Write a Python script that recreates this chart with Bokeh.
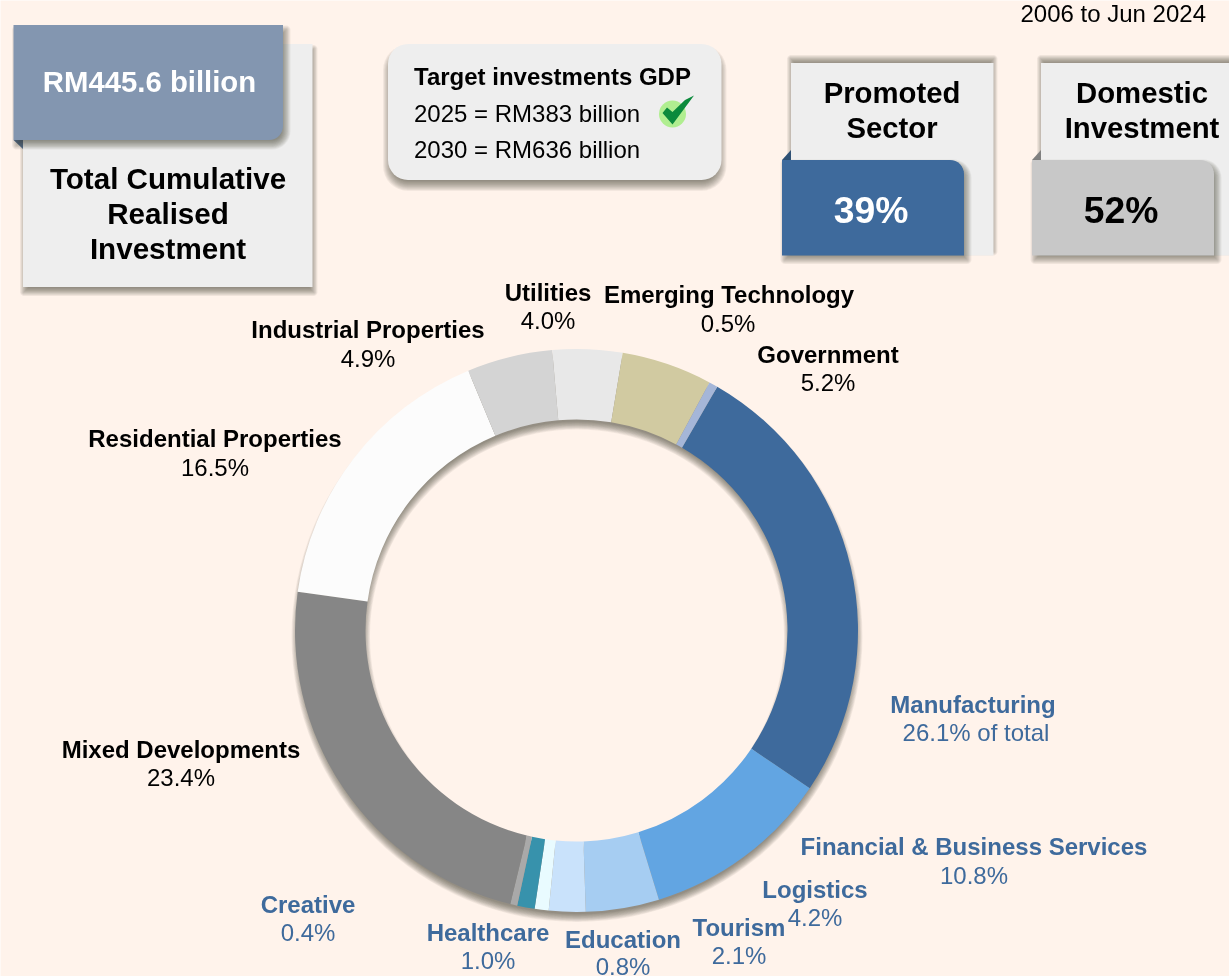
import math
import numpy as np
from bokeh.plotting import figure
from bokeh.models import Range1d, ColumnDataSource
from bokeh.core.properties import value
from bokeh.embed import file_html
from bokeh.resources import INLINE

# ---- data -------------------------------------------------------------
sectors = ["Manufacturing", "Financial & Business Services", "Logistics", "Tourism",
           "Education", "Healthcare", "Creative", "Mixed Developments",
           "Residential Properties", "Industrial Properties", "Utilities",
           "Government", "Emerging Technology"]
shares = [26.1, 10.8, 4.2, 2.1, 0.8, 1.0, 0.4, 23.4, 16.5, 4.9, 4.0, 5.2, 0.5]
colors = ["#3e6a9c", "#62a5e2", "#a6cdf2", "#c9e2fb", "#e9fbff", "#3792ac", "#a9a9a9",
          "#868686", "#fcfcfc", "#d4d4d4", "#e8e8e8", "#d1caa1", "#a5b6d8"]
label_colors = ["#3e6a9c"] * 7 + ["#000000"] * 6
value_suffix = [" of total"] + [""] * 12

# ---- layout (pixel positions of the labels) ---------------------------
name_x = [973, 974, 815, 739, 623, 488, 308, 181, 215, 368, 548, 828, 729]
name_base = [704.5, 846.5, 889.5, 927.5, 939.5, 932.5, 904.5, 749.5, 438.5, 329.5, 292.5, 354.5, 294.5]
val_x = [976, 974, 815, 739, 623, 488, 308, 181, 215, 368, 548, 828, 728]
val_base = [732.5, 875, 917.5, 955.5, 966, 960.5, 932.5, 777.5, 467.5, 358.5, 320.5, 382.5, 323.5]

W, H = 1229, 976
BG = "#fff3eb"
SHADOW = "#3f3a36"
FONT = value("Liberation Sans")


def Y(y):
    return H - y


p = figure(width=W, height=H, x_range=Range1d(0.5, W + 0.5), y_range=Range1d(-0.5, H - 0.5),
           output_backend="svg", toolbar_location=None, min_border=0,
           background_fill_color=BG, border_fill_color=BG, outline_line_color=None,
           styles={"position": "fixed", "left": "0px", "top": "0px"})
p.axis.visible = False
p.grid.visible = False


def rounded(x0, y0, x1, y1, tl=0.0, tr=0.0, br=0.0, bl=0.0, grow=0.0):
    """Outline of a box with rounded corners, in pixel coordinates."""
    x0, y0, x1, y1 = x0 - grow, y0 - grow, x1 + grow, y1 + grow
    xs, ys = [], []
    corners = [(x0, y0, tl, 180), (x1, y0, tr, 270), (x1, y1, br, 0), (x0, y1, bl, 90)]
    signs = [(1, 1), (-1, 1), (-1, -1), (1, -1)]
    for (cx, cy, r, a0), (sx, sy) in zip(corners, signs):
        r = max(r + grow, 0.0)
        cxx, cyy = cx + sx * r, cy + sy * r
        for t in np.linspace(a0, a0 + 90, 9):
            xs.append(cxx + r * math.cos(math.radians(t)))
            ys.append(cyy + r * math.sin(math.radians(t)))
    return xs, [Y(v) for v in ys]


def box(x0, y0, x1, y1, color, sdx=0, sdy=0, blur=0, salpha=0.0, **radii):
    if salpha > 0:
        n = 12
        a = 1 - (1 - salpha) ** (1 / n)
        for k in range(n):
            g = blur * (1 - 2 * k / (n - 1))
            xs, ys = rounded(x0 + sdx, y0 + sdy, x1 + sdx, y1 + sdy, grow=g, **radii)
            p.patch(xs, ys, fill_color=SHADOW, fill_alpha=a, line_color=None)
    xs, ys = rounded(x0, y0, x1, y1, **radii)
    p.patch(xs, ys, fill_color=color, line_color=None)


def tri(pts, color):
    p.patch([q[0] for q in pts], [Y(q[1]) for q in pts], fill_color=color, line_color=None)


def label(x, base, s, size, color="#000000", bold=True, align="center"):
    p.text([x], [Y(base)], text=[s], text_font=FONT, text_font_size=f"{size}px",
           text_font_style="bold" if bold else "normal", text_color=color,
           text_align=align, text_baseline="alphabetic")


# ---- cards ------------------------------------------------------------
box(23, 44, 312.5, 287, "#eeeeee", 1, 5, 4, 0.55)
tri([(13.5, 140), (23, 140), (23, 149)], "#4f6a8c")
box(13.5, 25, 283, 140, "#8396b0", 3, 5, 4.5, 0.55, br=14)
label(149.5, 81.5, "RM445.6 billion", 29.3, "#ffffff")
label(168, 178, "Total Cumulative", 29.6)
label(168, 213, "Realised", 29.6)
label(168, 248, "Investment", 29.6)

box(388, 44, 721.5, 180, "#eeeeee", 0, 6, 5, 0.55, tl=20, tr=20, br=20, bl=20)
label(414, 76, "Target investments GDP", 24, align="left")
label(414, 113.5, "2025 = RM383 billion", 24, bold=False, align="left")
label(414, 149.5, "2030 = RM636 billion", 24, bold=False, align="left")
p.scatter([672.5], [Y(114)], size=27, marker="circle", fill_color="#b0ee90", line_color=None)
tri([(662.5, 113), (667, 107.5), (672.5, 112), (685, 100), (694, 95.5), (672.5, 124.5)], "#0b8a3c")

box(791, 63, 993.5, 255.5, "#eeeeee", 0, -4, 4, 0.55)
tri([(782, 160), (791, 150), (791, 160)], "#2f5175")
box(782, 160, 964, 255.5, "#3e6a9c", 3, 4, 4.5, 0.55, tr=14)
label(892, 92, "Promoted", 29.3)
label(892, 127, "Sector", 29.3)
label(871, 209.5, "39%", 37.3, "#ffffff")

box(1041, 63, 1240, 255.5, "#eeeeee", 0, -4, 4, 0.55)
tri([(1032, 160), (1041, 150), (1041, 160)], "#808080")
box(1032, 160, 1214, 255.5, "#c8c8c8", 3, 4, 4.5, 0.55, tr=14)
label(1142, 92, "Domestic", 29.3)
label(1142, 127, "Investment", 29.3)
label(1121, 209.5, "52%", 37.3)

label(1206, 13, "2006 to Jun 2024", 24, bold=False, align="right")

# ---- donut ------------------------------------------------------------
CX, CY, R_OUT, R_IN = 576.5, 630.5, 281.5, 211.0
n_layers = 12
layer_alpha = 1 - (1 - 0.55) ** (1 / n_layers)
for k in range(n_layers):
    g = 4.0 * (1 - 2 * k / (n_layers - 1))
    p.annulus([CX + 0.5], [Y(CY + 6)], inner_radius=R_IN - g, outer_radius=R_OUT + g,
              fill_color=SHADOW, fill_alpha=layer_alpha, line_color=None)

arr = np.array(shares)
frac = np.cumsum(arr) / arr.sum() * 2 * np.pi
start_top = np.radians(60.0)
ends = start_top - frac
starts = np.concatenate([[start_top], ends[:-1]])
src = ColumnDataSource(dict(start=starts, end=ends, color=colors, sector=sectors))
p.annular_wedge(x=CX, y=Y(CY), inner_radius=R_IN, outer_radius=R_OUT,
                start_angle="start", end_angle="end", direction="clock",
                fill_color="color", line_color=None, source=src)

# ---- donut labels -----------------------------------------------------
for i, s in enumerate(sectors):
    label(name_x[i], name_base[i], s, 24, label_colors[i])
    label(val_x[i], val_base[i], f"{shares[i]}%{value_suffix[i]}", 24, label_colors[i], bold=False)

open("out.html", "w").write(file_html(p, INLINE))
